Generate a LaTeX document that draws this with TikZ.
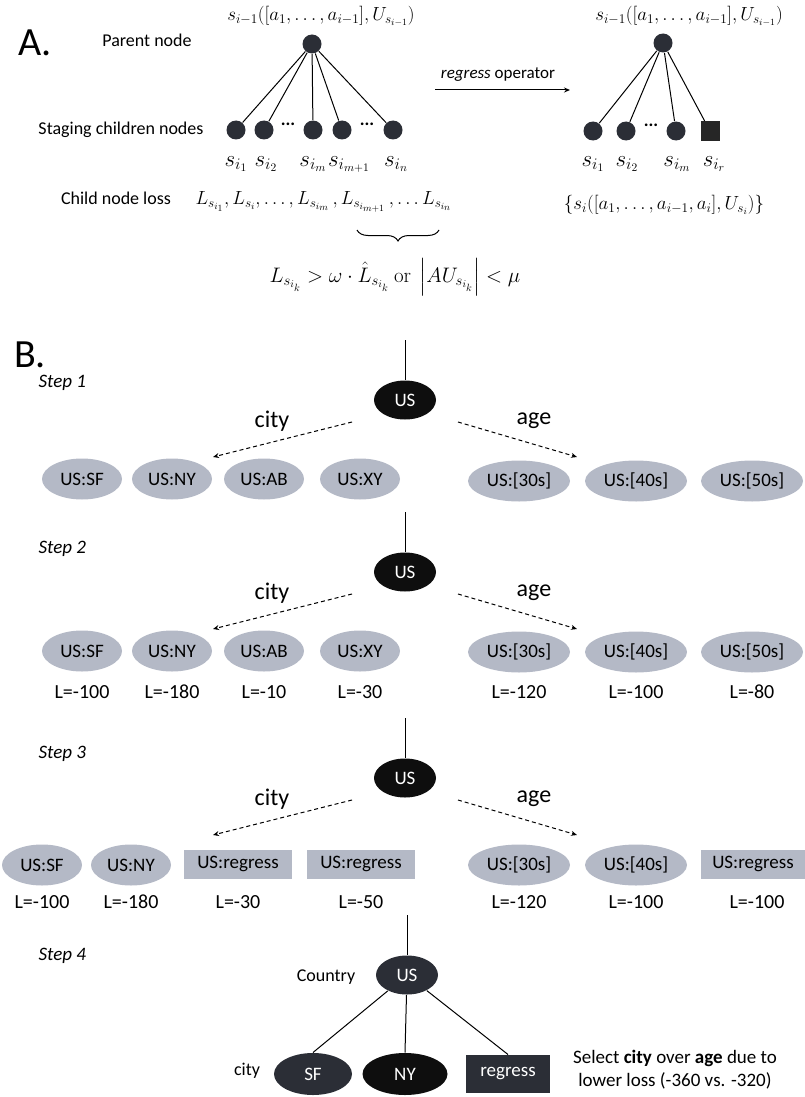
\documentclass[tikz,border=0pt]{standalone}
\usepackage{fix-cm}
\usepackage{amsmath}
\usepackage[no-math]{fontspec}
\setmainfont{Carlito}
\usepackage{tikz}
\usetikzlibrary{shapes.geometric}
\usetikzlibrary{decorations.pathreplacing}
\usetikzlibrary{arrows.meta}
\usetikzlibrary{positioning}
\definecolor{nodegray}{RGB}{180,185,198}
\definecolor{nodedark}{RGB}{43,46,54}
\definecolor{nodeblack}{RGB}{14,14,14}
\newcommand{\fsz}[1]{\fontsize{#1}{\dimexpr #1pt*6/5\relax}\selectfont}
\newcommand{\widthell}{80}
\newcommand{\widthwide}{102}
\newcommand{\widthrect}{108}
\tikzset{
    lbl/.style={font=\fsz{18}, inner sep=1pt},
    bigletter/.style={font=\fsz{40}, inner sep=0pt},
    steplbl/.style={font=\fsz{19}\itshape, anchor=west, inner sep=0pt},
    attrlbl/.style={font=\fsz{24}, inner sep=0pt},
    losslbl/.style={font=\fsz{20}, inner sep=0pt},
    mathlbl/.style={font=\fsz{19}, inner sep=0pt},
    slbl/.style={font=\fsz{23}, inner sep=0pt, anchor=base},
    dot/.style={circle, fill=nodedark, minimum size=19, inner sep=0pt},
    regdot/.style={rectangle, fill=nodeblack!90, minimum size=19, inner sep=0pt},
    common/.style={font=\fsz{19}, inner sep=0pt},
    grayell/.style={common, ellipse, fill=nodegray, minimum width=\widthell, minimum height=41},
    grayrect/.style={common, rectangle, fill=nodegray, minimum width=\widthrect, minimum height=29},
    usnode/.style={common, ellipse, fill=nodeblack, text=white, minimum width=62, minimum height=39},
    darkell/.style={common, ellipse, fill=nodedark, text=white, minimum width=78, minimum height=42},
    darkrect/.style={common, rectangle, fill=nodedark, text=white, minimum width=84, minimum height=38},
    dasharrow/.style={dashed, dash pattern=on 4pt off 3pt, line width=1, -{Stealth[length=6, width=5]}},
    trunk/.style={line width=1}
}

\begin{document}
\begin{tikzpicture}[x=1pt, y=-1pt, line width=1]
    \useasboundingbox (0,0) rectangle (805,1097);

    % A.
    \node[bigletter] (lA) at (35,43) {A.};
    \node[lbl] (lparent) at (147,40) {Parent node};
    \node[lbl] (lstaging) at (121,130) {Staging children nodes};
    \node[lbl] (lloss) at (116,198) {Child node loss};

    \node[dot] (p) at (312,44) {};
    \node[mathlbl] (plabel) at (321,16) {$s_{i-1}([a_1,\ldots,a_{i-1}],U_{s_{i-1}})$};
    \foreach \n/\x in {1/236, 2/264, 3/313, 4/342, 5/393}
        \node[dot] (c\n) at (\x,130) {};
    \foreach \n in {1,...,5}
        \draw (p) -- (c\n);
    \node[lbl] (dd1) at (288,124) {\textbf{...}};
    \node[lbl] (dd2) at (367,124) {\textbf{...}};
    \foreach \n/\x/\t in {1/236/{s_{i_1}}, 2/266/{s_{i_2}}, 3/313/{s_{i_m}}, 4/349/{s_{i_{m+1}}}, 5/396/{s_{i_n}}}
        \node[slbl] (s\n) at (\x,166) {$\t$};

    \node[mathlbl, anchor=west] (lossx) at (195,202)
        {$L_{s_{i_1}},L_{s_i},\ldots,L_{s_{i_m}}\,,L_{s_{i_{m+1}}}\,,\ldots L_{s_{i_n}}$};
    \coordinate (br1) at (357,230);
    \coordinate (br2) at (439,230);
    \draw[decorate, decoration={brace, mirror, amplitude=11}] (br1) -- (br2);
    \node[font=\fsz{21}, inner sep=0pt] (crit) at (395,277)
        {$L_{s_{i_k}} > \omega\cdot\hat{L}_{s_{i_k}}\ \mathrm{or}\ \left|AU_{s_{i_k}}\right| < \mu$};

    % regress operator
    \coordinate (ra1) at (435,90);
    \coordinate (ra2) at (570,90);
    \draw[-{Stealth[length=6, width=5]}] (ra1) -- (ra2);
    \node[lbl, font=\fsz{17}] (lregress) at (498,75) {\textit{regress} operator};

    \node[dot] (q) at (663,43) {};
    \node[mathlbl] (qlabel) at (689,16) {$s_{i-1}([a_1,\ldots,a_{i-1}],U_{s_{i-1}})$};
    \foreach \n/\x in {1/593, 2/626, 3/676}
        \node[dot] (d\n) at (\x,131) {};
    \node[regdot] (d4) at (710,131) {};
    \foreach \n in {1,...,4}
        \draw (q) -- (d\n);
    \node[lbl] (dd3) at (651,125) {\textbf{...}};
    \foreach \n/\x/\t in {1/593/{s_{i_1}}, 2/627/{s_{i_2}}, 3/677/{s_{i_m}}, 4/714/{s_{i_r}}}
        \node[slbl] (t\n) at (\x,166) {$\t$};
    \node[mathlbl] (setx) at (664,205) {$\{s_i([a_1,\ldots,a_{i-1},a_i],U_{s_i})\}$};

    % B.
    \node[bigletter] (lB) at (30,355) {B.};
    \foreach \n/\y in {1/400, 2/572, 3/778}{
        \node[usnode] (us\n) at (405,\y) {US};
        \coordinate (top\n) at (405,\y-60);
        \draw[trunk] (top\n) -- (us\n);
        \coordinate (ca\n) at (352,\y+22);
        \coordinate (cb\n) at (213,\y+57);
        \coordinate (aa\n) at (458,\y+22);
        \coordinate (ab\n) at (577,\y+57);
        \draw[dasharrow] (ca\n) -- (cb\n);
        \draw[dasharrow] (aa\n) -- (ab\n);
        \node[attrlbl] (city\n) at (272,\y+21) {city};
        \node[attrlbl] (age\n) at (534,\y+21) {age};
    }
    \node[steplbl] (st1) at (38,383) {Step 1};
    \node[steplbl] (st2) at (38,549) {Step 2};
    \node[steplbl] (st3) at (38,754) {Step 3};
    \node[steplbl] (st4) at (38,956) {Step 4};

    % step 1
    \foreach \n/\x/\t in {sf/82/US:SF, ny/172/US:NY, ab/264/US:AB, xy/360/US:XY}
        \node[grayell] (a\n) at (\x,479) {\t};
    \foreach \n/\x/\t in {k30/519/{US:[30s]}, k40/636/{US:[40s]}, k50/752/{US:[50s]}}
        \node[grayell, minimum width=\widthwide] (a\n) at (\x,481) {\t};

    % step 2
    \foreach \n/\x/\t/\l in {sf/82/US:SF/-100, ny/172/US:NY/-180, ab/264/US:AB/-10, xy/360/US:XY/-30}{
        \node[grayell] (b\n) at (\x,651) {\t};
        \node[losslbl] (bl\n) at (\x,692) {L=\l};
    }
    \foreach \n/\x/\t/\l in {k30/519/{US:[30s]}/-120, k40/636/{US:[40s]}/-100, k50/752/{US:[50s]}/-80}{
        \node[grayell, minimum width=\widthwide] (b\n) at (\x,652) {\t};
        \node[losslbl] (bl\n) at (\x,692) {L=\l};
    }

    % step 3
    \foreach \n/\x/\t/\l in {sf/42/US:SF/-100, ny/131/US:NY/-180}{
        \node[grayell] (c\n) at (\x,865) {\t};
        \node[losslbl] (cl\n) at (\x,902) {L=\l};
    }
    \foreach \n/\x/\l in {ra/238/-30, rb/361/-50}{
        \node[grayrect] (c\n) at (\x,864) {US:regress};
        \node[losslbl] (cl\n) at (\x,902) {L=\l};
    }
    \foreach \n/\x/\t/\l in {k30/519/{US:[30s]}/-120, k40/636/{US:[40s]}/-100}{
        \node[grayell, minimum width=\widthwide] (c\n) at (\x,865) {\t};
        \node[losslbl] (cl\n) at (\x,902) {L=\l};
    }
    \node[grayrect, minimum width=104] (crc) at (753,864) {US:regress};
    \node[losslbl] (clrc) at (757,902) {L=-100};

    % step 4
    \node[usnode, fill=nodedark] (us4) at (407,975) {US};
    \coordinate (top4) at (407,915);
    \draw[trunk] (top4) -- (us4);
    \node[lbl] (lcountry) at (326,977) {Country};
    \node[darkell] (sf4) at (313,1074) {SF};
    \node[darkell, fill=nodeblack, minimum width=85] (ny4) at (405,1074) {NY};
    \node[darkrect] (reg4) at (508,1074) {regress};
    \node[lbl] (lcity4) at (247,1071) {city};
    \draw (us4) -- (sf4.north);
    \draw (us4) -- (ny4.north);
    \draw (us4) -- (reg4.north);
    \node[lbl, font=\fsz{19}, align=center] (note) at (675,1070)
        {Select \textbf{city} over \textbf{age} due to\\lower loss (-360 vs. -320)};
\end{tikzpicture}
\end{document}
